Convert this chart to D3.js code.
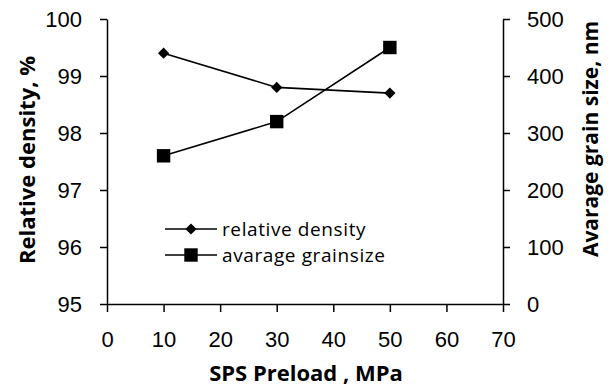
<!DOCTYPE html>
<html>
<head>
<meta charset="utf-8">
<script src="https://cdn.jsdelivr.net/npm/d3@7"></script>
<style>
  body { margin: 0; background: #fff; }
  svg { font-family: "Open Sans", sans-serif; }
  .axis path, .axis line { stroke: #000; stroke-width: 1.5; }
  .axis text { font-size: 22px; fill: #000; }
</style>
</head>
<body>
<svg width="616" height="391"></svg>
<script>
// data
var preload = [10, 30, 50];
var density = [99.4, 98.8, 98.7];
var grainSize = [260, 320, 450];
var xTicks = [0, 10, 20, 30, 40, 50, 60, 70];
var densityTicks = [95, 96, 97, 98, 99, 100];
var grainTicks = [0, 100, 200, 300, 400, 500];

var svg = d3.select("svg"),
    margin = { top: 19, right: 113, bottom: 87, left: 107 },
    width = +svg.attr("width") - margin.left - margin.right,
    height = +svg.attr("height") - margin.top - margin.bottom;

var x = d3.scaleLinear().domain([0, 70]).range([0, width]);
var yL = d3.scaleLinear().domain([95, 100]).range([height, 0]);
var yR = d3.scaleLinear().domain([0, 500]).range([height, 0]);

var g = svg.append("g")
    .attr("transform", "translate(" + margin.left + "," + margin.top + ")");

// x axis
g.append("g")
    .attr("class", "axis")
    .attr("transform", "translate(0," + height + ")")
    .call(d3.axisBottom(x).tickValues(xTicks).tickFormat(d3.format("d"))
        .tickSize(8).tickSizeOuter(0).tickPadding(19));

// left axis
g.append("g")
    .attr("class", "axis")
    .call(d3.axisLeft(yL).tickValues(densityTicks).tickFormat(d3.format("d"))
        .tickSize(7).tickSizeOuter(0).tickPadding(18));

// right axis
g.append("g")
    .attr("class", "axis")
    .attr("transform", "translate(" + width + ",0)")
    .call(d3.axisRight(yR).tickValues(grainTicks).tickFormat(d3.format("d"))
        .tickSize(7).tickSizeOuter(0).tickPadding(17));

// lines
var lineL = d3.line().x((d, i) => x(preload[i])).y(d => yL(d));
var lineR = d3.line().x((d, i) => x(preload[i])).y(d => yR(d));

g.append("path").datum(density)
    .attr("d", lineL).attr("fill", "none").attr("stroke", "#000").attr("stroke-width", 1.6);
g.append("path").datum(grainSize)
    .attr("d", lineR).attr("fill", "none").attr("stroke", "#000").attr("stroke-width", 1.6);

var diamond = d3.symbol().type(d3.symbolDiamond2).size(80);
var square = d3.symbol().type(d3.symbolSquare).size(180);

g.selectAll(".dia").data(density).enter().append("path")
    .attr("class", "dia")
    .attr("d", diamond)
    .attr("transform", (d, i) => "translate(" + x(preload[i]) + "," + yL(d) + ")")
    .attr("fill", "#000");

g.selectAll(".sq").data(grainSize).enter().append("path")
    .attr("class", "sq")
    .attr("d", square)
    .attr("transform", (d, i) => "translate(" + x(preload[i]) + "," + yR(d) + ")")
    .attr("fill", "#000");

// axis titles
svg.append("text")
    .attr("x", 306).attr("y", 381)
    .attr("text-anchor", "middle")
    .style("font-size", "22px").style("font-weight", "bold")
    .text("SPS Preload , MPa");

svg.append("text")
    .attr("transform", "translate(35,160) rotate(-90)")
    .attr("text-anchor", "middle")
    .style("font-size", "22px").style("font-weight", "bold")
    .text("Relative density, %");

svg.append("text")
    .attr("transform", "translate(598,139) rotate(-90)")
    .attr("text-anchor", "middle")
    .style("font-size", "21px").style("font-weight", "bold")
    .text("Avarage grain size, nm");

// legend
var legend = [
    { name: "relative density", sym: diamond, y: 229 },
    { name: "avarage grainsize", sym: square, y: 255 }
];
var lg = svg.selectAll(".leg").data(legend).enter().append("g")
    .attr("class", "leg")
    .attr("transform", d => "translate(165," + d.y + ")");
lg.append("line").attr("x1", 0).attr("x2", 52).attr("stroke", "#000").attr("stroke-width", 1.6);
lg.append("path").attr("d", d => d.sym()).attr("transform", "translate(26,0)").attr("fill", "#000");
lg.append("text").attr("x", 57).attr("dy", "0.35em")
    .style("font-size", "19px").style("letter-spacing", "0.6px")
    .text(d => d.name);
</script>
</body>
</html>
